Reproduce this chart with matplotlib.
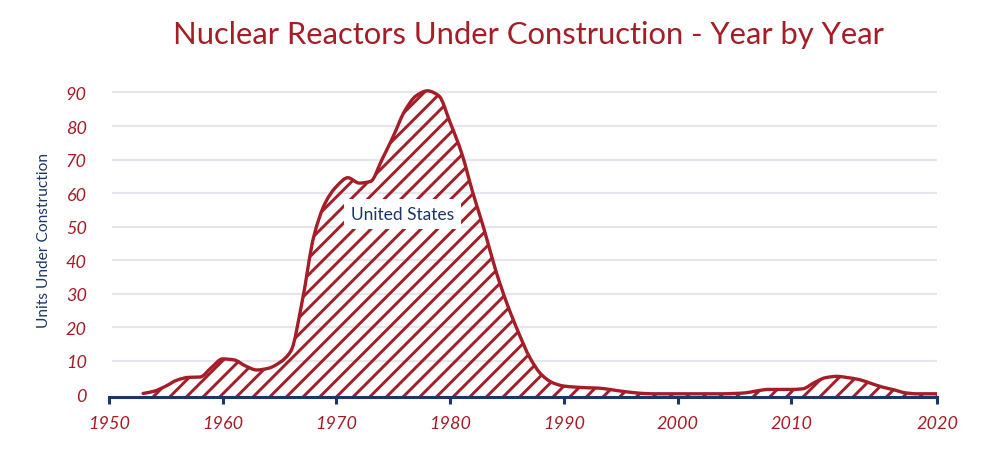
import numpy as np
import matplotlib
matplotlib.use('Agg')
import matplotlib.pyplot as plt
from matplotlib.path import Path
from matplotlib.patches import PathPatch

# ---- data ----
years = [1953, 1954, 1955, 1956, 1957, 1958, 1959, 1960, 1961, 1962, 1963, 1964,
         1965, 1966, 1967, 1968, 1969, 1970, 1971, 1972, 1973, 1974, 1975, 1976,
         1977, 1978, 1979, 1980, 1981, 1982, 1983, 1984, 1985, 1986, 1987, 1988,
         1989, 1990, 1991, 1992, 1993, 1994, 1995, 1996, 1997, 1998, 1999, 2000,
         2001, 2002, 2003, 2004, 2005, 2006, 2007, 2008, 2009, 2010, 2011, 2012,
         2013, 2014, 2015, 2016, 2017, 2018, 2019, 2020, 2021, 2022, 2023]
units = [0.3, 1.0, 2.5, 4.3, 5.1, 5.2, 8.0, 10.6, 10.3, 8.5, 7.3, 7.8,
         9.5, 13.0, 28.0, 47.0, 57.0, 62.0, 64.6, 63.0, 63.5, 70.0, 77.0, 84.5,
         89.0, 90.5, 89.0, 81.0, 72.0, 60.0, 49.0, 37.0, 27.0, 18.5, 11.0, 6.0,
         3.5, 2.5, 2.2, 2.0, 1.9, 1.5, 1.0, 0.6, 0.3, 0.2, 0.2, 0.2,
         0.2, 0.2, 0.2, 0.2, 0.3, 0.5, 1.1, 1.5, 1.5, 1.5, 1.7, 3.5,
         5.0, 5.4, 5.0, 4.4, 3.3, 2.2, 1.4, 0.5, 0.2, 0.2, 0.2]
series_label = "United States"
x_ticks = [1950, 1960, 1970, 1980, 1990, 2000, 2010, 2022.8]
x_tick_labels = ["1950", "1960", "1970", "1980", "1990", "2000", "2010", "2020"]
y_ticks = [0, 10, 20, 30, 40, 50, 60, 70, 80, 90]
title = "Nuclear Reactors Under Construction - Year by Year"
y_label = "Units Under Construction"

RED = "#a51d26"
NAVY = "#1b3769"
GRID = "#e5e5ee"

plt.rcParams['hatch.linewidth'] = 2.1
plt.rcParams['hatch.color'] = RED
FONT = ['Lato', 'DejaVu Sans']


def monotone_bezier(x, y):
    x = np.asarray(x, float); y = np.asarray(y, float)
    h = np.diff(x); d = np.diff(y) / h
    n = len(x)
    m = np.zeros(n)
    m[0] = d[0]; m[-1] = d[-1]
    for i in range(1, n - 1):
        if d[i - 1] * d[i] <= 0:
            m[i] = 0
        else:
            h0, h1 = h[i - 1], h[i]
            m[i] = 3 * (h0 + h1) / ((2 * h1 + h0) / d[i - 1] + (h1 + 2 * h0) / d[i])
    verts = [(x[0], y[0])]
    codes = [Path.MOVETO]
    for i in range(n - 1):
        verts += [(x[i] + h[i] / 3, y[i] + m[i] * h[i] / 3),
                  (x[i + 1] - h[i] / 3, y[i + 1] - m[i + 1] * h[i] / 3),
                  (x[i + 1], y[i + 1])]
        codes += [Path.CURVE4] * 3
    return verts, codes


fig = plt.figure(figsize=(10, 4.52), dpi=100)
ax = fig.add_axes([0.109, 0.1195, 0.828, 0.6885])
ybot = -0.75
ax.set_xlim(1950, x_ticks[-1])
ax.set_ylim(ybot, 92)

for yv in y_ticks[1:]:
    ax.axhline(yv, xmin=0.005, xmax=1.0, color=GRID, lw=1.6, zorder=0)

verts, codes = monotone_bezier(years, units)
fill_verts = verts + [(years[-1], ybot), (years[0], ybot), (years[0], units[0])]
fill_codes = codes + [Path.LINETO, Path.LINETO, Path.CLOSEPOLY]
ax.add_patch(PathPatch(Path(fill_verts, fill_codes), facecolor='none',
                       edgecolor=RED, hatch='//', lw=0, zorder=2))
ax.add_patch(PathPatch(Path(verts, codes), facecolor='none', edgecolor=RED,
                       lw=2.4, zorder=3, capstyle='round', joinstyle='round'))

ax.text(1975.8, 53.8, series_label, ha='center', va='center', color=NAVY,
        fontsize=12.5, family=FONT, zorder=5,
        bbox=dict(facecolor='white', edgecolor='none', pad=5))

for s in ['top', 'right', 'left']:
    ax.spines[s].set_visible(False)
ax.spines['bottom'].set_color(NAVY)
ax.spines['bottom'].set_linewidth(2.2)

ax.set_xticks(x_ticks)
ax.set_xticklabels(x_tick_labels)
ax.set_yticks(y_ticks)
ax.set_yticklabels([str(v) for v in y_ticks])
ax.tick_params(axis='x', colors=NAVY, length=5, width=2.2, pad=8, labelcolor=RED,
               labelsize=13)
ax.tick_params(axis='y', length=0, pad=16, labelcolor=RED, labelsize=13)
for lab in ax.get_xticklabels() + ax.get_yticklabels():
    lab.set_family(FONT)
    lab.set_style('italic')

fig.text(0.044, 0.469, y_label, rotation=90, ha='center', va='center',
         color=NAVY, fontsize=11.2, family=FONT)
fig.text(0.528, 0.922, title, ha='center', va='center', color=RED,
         fontsize=22.3, family=FONT)

fig.savefig('out.png', dpi=100, facecolor='white')
